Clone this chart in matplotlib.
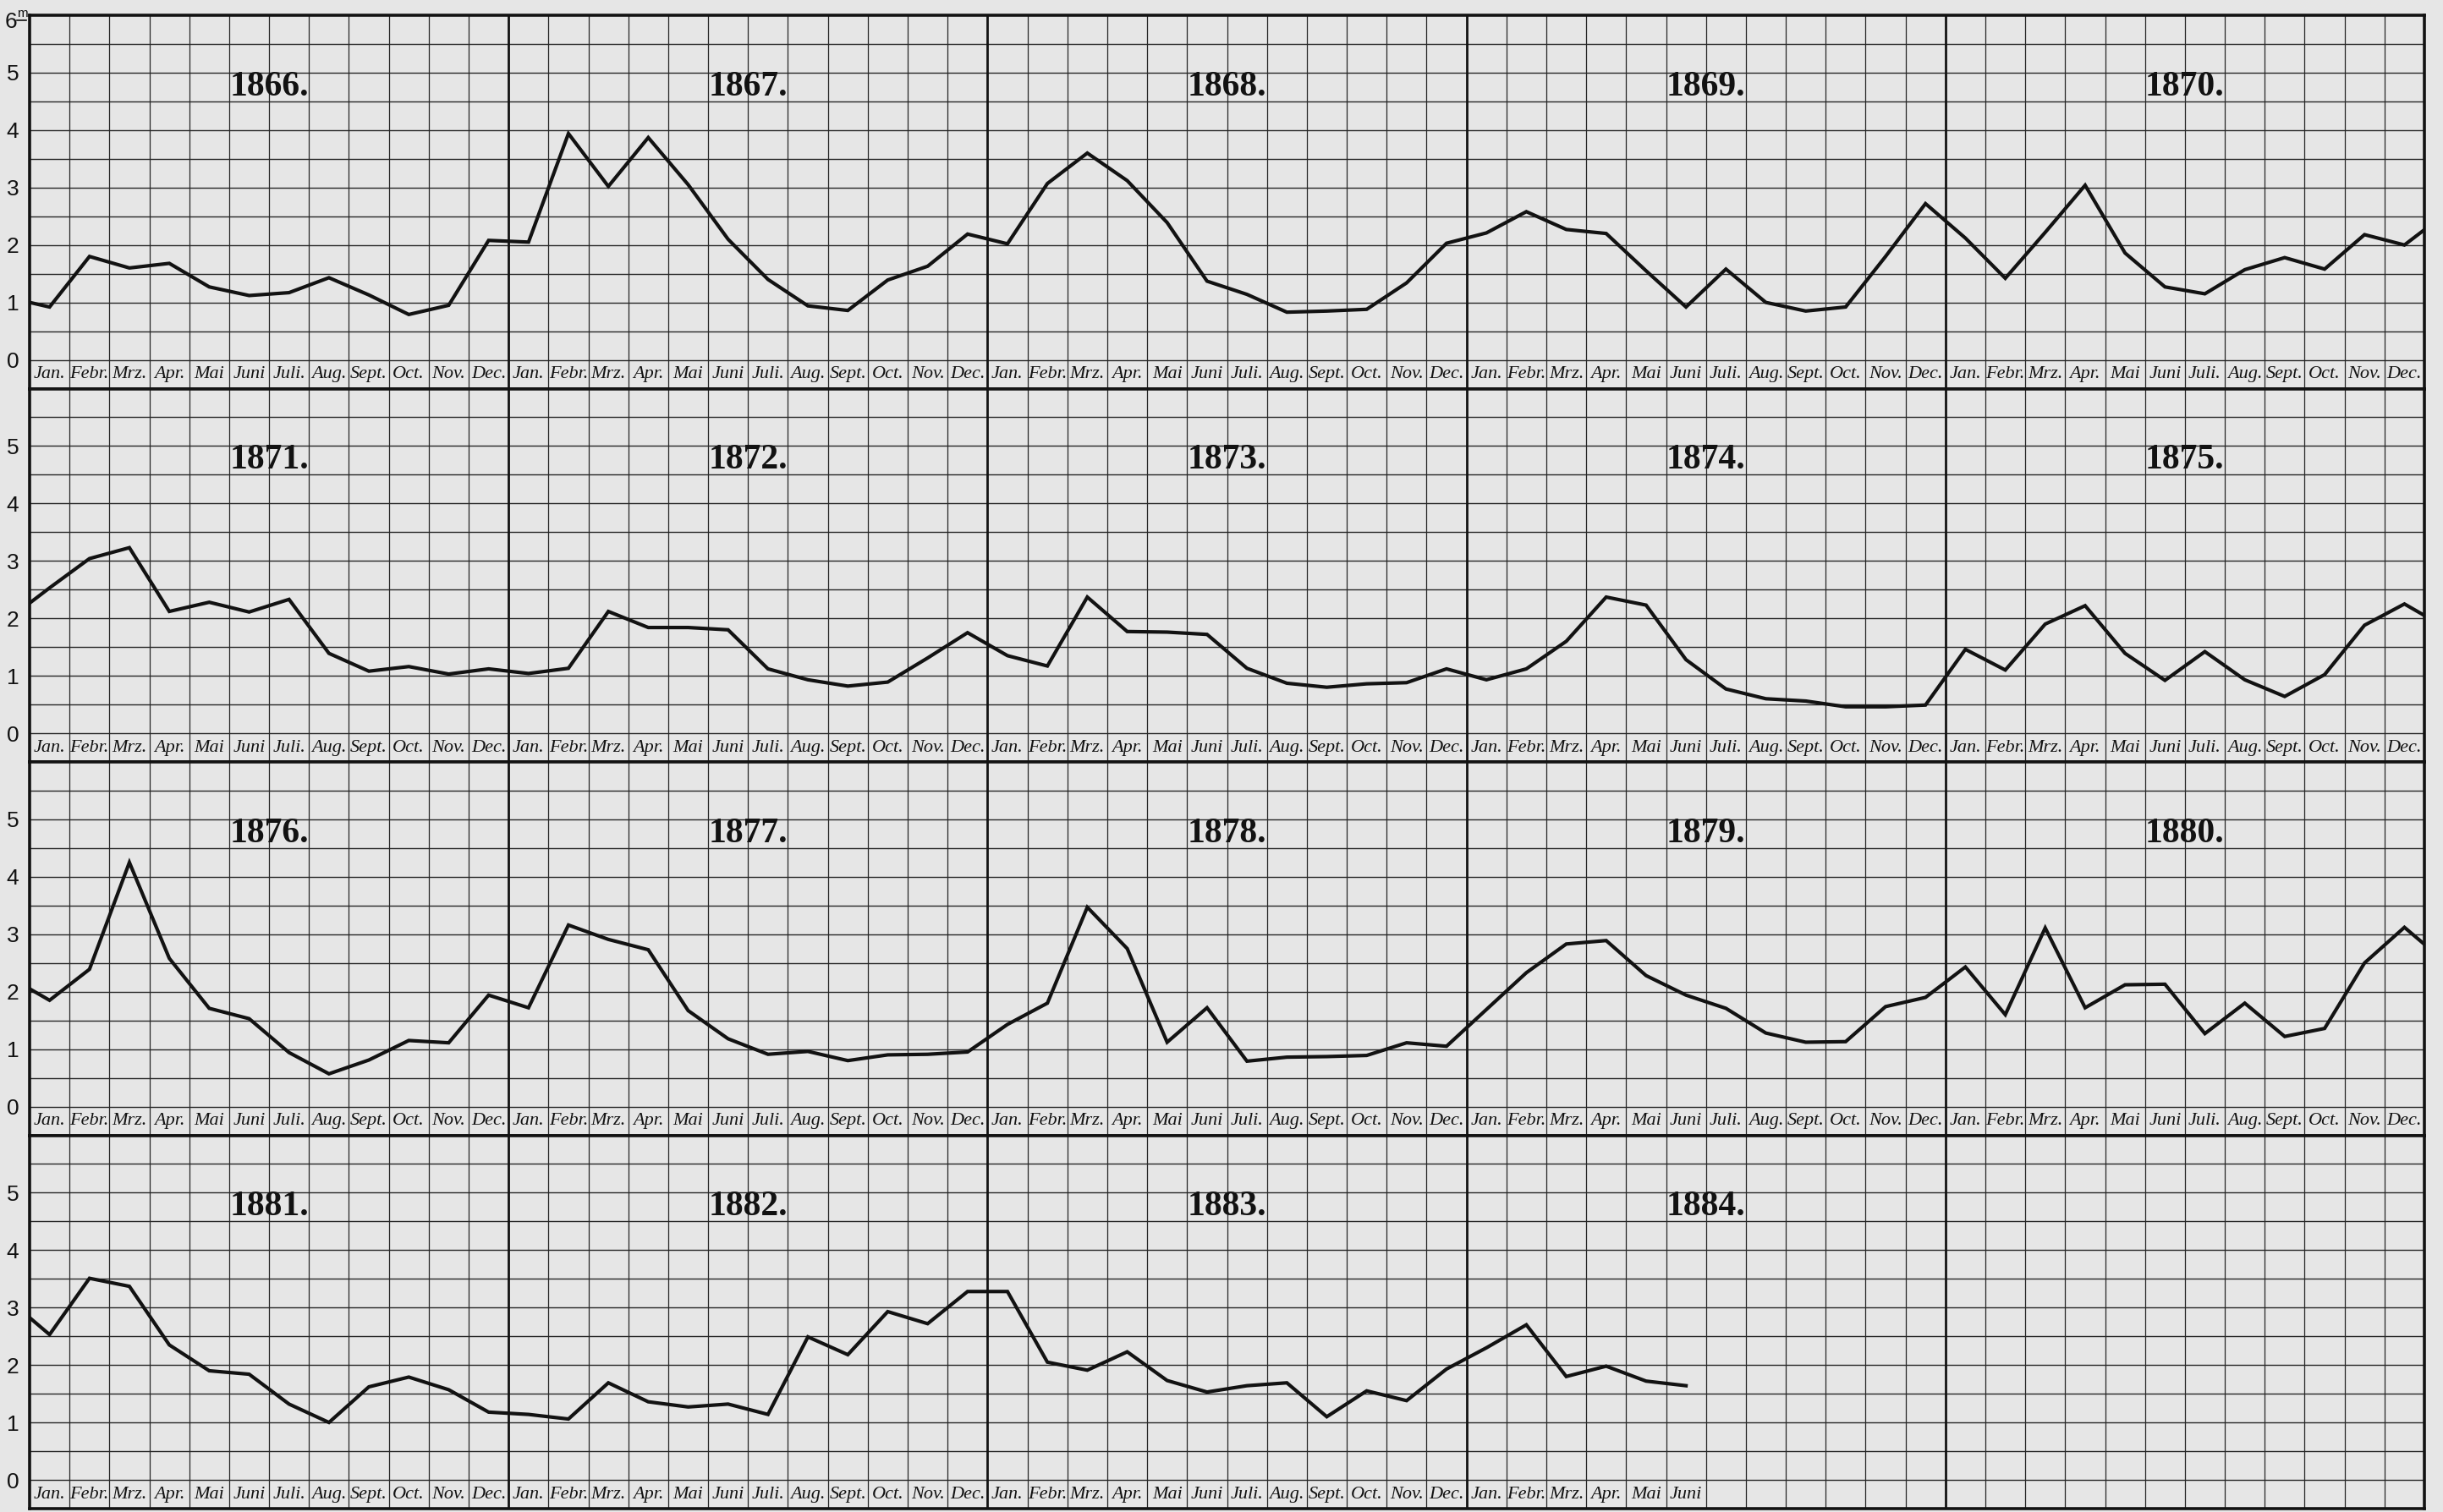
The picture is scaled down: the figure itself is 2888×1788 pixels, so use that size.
import matplotlib
matplotlib.use("Agg")
import matplotlib.pyplot as plt
from matplotlib.lines import Line2D
import numpy as np

years = list(range(1866, 1885))
month_labels = ["Jan.", "Febr.", "Mrz.", "Apr.", "Mai", "Juni",
                "Juli.", "Aug.", "Sept.", "Oct.", "Nov.", "Dec."]
y_ticks = [0, 1, 2, 3, 4, 5]

# monthly readings in metres, plotted at mid-month
dec_1865 = 1.08
y1866 = [0.92, 1.80, 1.60, 1.68, 1.27, 1.12, 1.17, 1.43, 1.13, 0.79, 0.95, 2.08]
y1867 = [2.05, 3.94, 3.02, 3.87, 3.05, 2.10, 1.40, 0.94, 0.86, 1.39, 1.63, 2.19]
y1868 = [2.02, 3.07, 3.60, 3.12, 2.39, 1.37, 1.14, 0.83, 0.85, 0.88, 1.34, 2.03]
y1869 = [2.21, 2.58, 2.27, 2.20, 1.55, 0.92, 1.58, 1.00, 0.85, 0.92, 1.80, 2.72]
y1870 = [2.12, 1.42, 2.22, 3.04, 1.86, 1.27, 1.15, 1.57, 1.78, 1.58, 2.18, 2.00]
y1871 = [2.53, 3.04, 3.23, 2.12, 2.28, 2.11, 2.33, 1.39, 1.08, 1.16, 1.03, 1.12]
y1872 = [1.04, 1.13, 2.12, 1.84, 1.84, 1.80, 1.12, 0.93, 0.82, 0.89, 1.31, 1.75]
y1873 = [1.35, 1.17, 2.37, 1.77, 1.76, 1.72, 1.13, 0.87, 0.80, 0.86, 0.88, 1.12]
y1874 = [0.93, 1.12, 1.60, 2.37, 2.23, 1.28, 0.77, 0.60, 0.56, 0.46, 0.46, 0.49]
y1875 = [1.46, 1.10, 1.90, 2.22, 1.39, 0.92, 1.42, 0.93, 0.64, 1.02, 1.88, 2.25]
y1876 = [1.85, 2.39, 4.25, 2.58, 1.71, 1.53, 0.94, 0.57, 0.81, 1.15, 1.11, 1.94]
y1877 = [1.72, 3.16, 2.91, 2.73, 1.67, 1.18, 0.91, 0.96, 0.80, 0.90, 0.91, 0.95]
y1878 = [1.43, 1.80, 3.47, 2.75, 1.12, 1.72, 0.79, 0.86, 0.87, 0.89, 1.11, 1.05]
y1879 = [1.69, 2.33, 2.83, 2.89, 2.28, 1.94, 1.71, 1.28, 1.12, 1.13, 1.74, 1.90]
y1880 = [2.43, 1.60, 3.11, 1.72, 2.12, 2.13, 1.27, 1.80, 1.22, 1.36, 2.50, 3.12]
y1881 = [2.53, 3.51, 3.37, 2.35, 1.90, 1.84, 1.32, 1.00, 1.62, 1.79, 1.57, 1.18]
y1882 = [1.14, 1.06, 1.69, 1.36, 1.27, 1.32, 1.14, 2.49, 2.18, 2.93, 2.72, 3.28]
y1883 = [3.28, 2.05, 1.91, 2.23, 1.73, 1.53, 1.64, 1.69, 1.10, 1.55, 1.38, 1.93]
y1884 = [2.30, 2.70, 1.80, 1.98, 1.72, 1.64]

by_year = [y1866, y1867, y1868, y1869, y1870, y1871, y1872, y1873, y1874, y1875,
           y1876, y1877, y1878, y1879, y1880, y1881, y1882, y1883, y1884]

levels = [dec_1865]
for vals in by_year:
    levels += vals
levels = np.array(levels)
months_x = np.arange(len(levels)) - 1 + 0.5  # Dec 1865 sits at -0.5

paper = "#e6e6e6"
ink = "#121212"
grid_c = "#262626"
tick_font = ["Liberation Sans Narrow", "Liberation Sans"]

W, H = 2888, 1788
fig = plt.figure(figsize=(W / 100, H / 100), dpi=100, facecolor=paper)

left_px, right_px, top_px, bottom_px = 35, 2866, 18, 1784
row_h = (bottom_px - top_px) / 4

for r in range(4):
    t = top_px + r * row_h
    ax = fig.add_axes([left_px / W, 1 - (t + row_h) / H,
                       (right_px - left_px) / W, row_h / H])
    ax.set_facecolor(paper)
    ax.set_xlim(0, 60)
    ax.set_ylim(-0.5, 6)

    # paper grid
    for v in np.arange(0, 6, 0.5):
        ax.axhline(v, color=grid_c, lw=1.0, zorder=1)
    for m in range(1, 60):
        thick = m % 12 == 0
        ax.axvline(m, color=ink if thick else grid_c,
                   lw=2.0 if thick else 0.9, zorder=1)

    for s in ax.spines.values():
        s.set_linewidth(2.6)
        s.set_color(ink)

    ax.plot(months_x - 60 * r, levels, color=ink, lw=3.0,
            solid_joinstyle="miter", zorder=3)

    for k in range(5):
        idx = r * 5 + k
        if idx >= len(years):
            continue
        ax.text(12 * k + 6, 4.75, f"{years[idx]}.", ha="center", va="center",
                fontsize=30, fontweight="bold", family="Liberation Serif",
                color=ink, zorder=4)
        for m in range(len(by_year[idx])):
            ax.text(12 * k + m + 0.5, -0.25, month_labels[m], ha="center",
                    va="center", fontsize=16, style="italic",
                    family="Liberation Serif", color=ink, zorder=4)

    ax.set_xticks([])
    ax.set_yticks(y_ticks)
    ax.set_yticklabels([str(v) for v in y_ticks], family=tick_font)
    ax.tick_params(axis="y", length=0, pad=9, labelsize=19, labelcolor=ink)

# "6 m" unit mark at the top left
fig.text(6 / W, 1 - 26 / H, "6", fontsize=19, ha="left", va="center",
         family=tick_font, color=ink)
fig.text(20 / W, 1 - 16 / H, "m", fontsize=11, ha="left", va="center",
         family=tick_font, color=ink)
fig.add_artist(Line2D([20 / W, 31 / W], [1 - 24 / H, 1 - 24 / H],
                      transform=fig.transFigure, color=ink, lw=1.2))

fig.savefig("out.png", dpi=100, facecolor=fig.get_facecolor())
